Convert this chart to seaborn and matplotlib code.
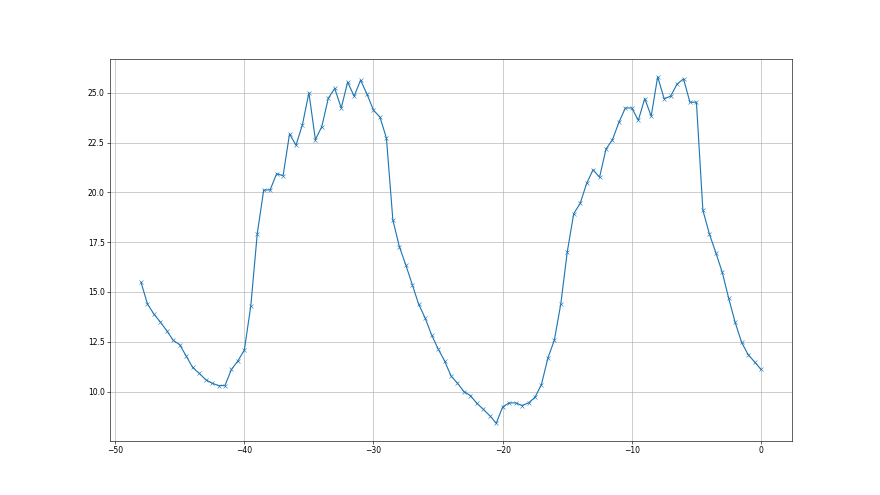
import matplotlib

matplotlib.use("Agg")
import matplotlib.pyplot as plt
import pandas as pd
import seaborn as sns

# 값은 그림에서 읽은 추정치 (x: -48 ~ 0, 0.5 간격)
X_VALUES = [
    -48.0, -47.5, -47.0, -46.5, -46.0, -45.5, -45.0, -44.5, -44.0, -43.5,
    -43.0, -42.5, -42.0, -41.5, -41.0, -40.5, -40.0, -39.5, -39.0, -38.5,
    -38.0, -37.5, -37.0, -36.5, -36.0, -35.5, -35.0, -34.5, -34.0, -33.5,
    -33.0, -32.5, -32.0, -31.5, -31.0, -30.5, -30.0, -29.5, -29.0, -28.5,
    -28.0, -27.5, -27.0, -26.5, -26.0, -25.5, -25.0, -24.5, -24.0, -23.5,
    -23.0, -22.5, -22.0, -21.5, -21.0, -20.5, -20.0, -19.5, -19.0, -18.5,
    -18.0, -17.5, -17.0, -16.5, -16.0, -15.5, -15.0, -14.5, -14.0, -13.5,
    -13.0, -12.5, -12.0, -11.5, -11.0, -10.5, -10.0, -9.5, -9.0, -8.5,
    -8.0, -7.5, -7.0, -6.5, -6.0, -5.5, -5.0, -4.5, -4.0, -3.5,
    -3.0, -2.5, -2.0, -1.5, -1.0, -0.5, 0.0,
]
Y_VALUES = [
    15.49, 14.40, 13.89, 13.49, 13.05, 12.57, 12.35, 11.78, 11.21, 10.92,
    10.60, 10.42, 10.30, 10.30, 11.11, 11.54, 12.08, 14.30, 17.92, 20.12,
    20.13, 20.94, 20.84, 22.94, 22.37, 23.41, 25.00, 22.65, 23.31, 24.73,
    25.22, 24.24, 25.54, 24.83, 25.64, 24.93, 24.13, 23.78, 22.73, 18.61,
    17.28, 16.36, 15.37, 14.38, 13.69, 12.84, 12.15, 11.54, 10.79, 10.42,
    10.00, 9.80, 9.41, 9.11, 8.79, 8.41, 9.23, 9.43, 9.43, 9.30,
    9.43, 9.71, 10.35, 11.68, 12.58, 14.40, 17.01, 18.93, 19.45, 20.45,
    21.14, 20.76, 22.18, 22.65, 23.52, 24.24, 24.24, 23.62, 24.71, 23.83,
    25.81, 24.71, 24.83, 25.44, 25.70, 24.53, 24.53, 19.11, 17.92, 16.98,
    15.99, 14.68, 13.47, 12.47, 11.86, 11.49, 11.11,
]


def main() -> None:
    df = pd.DataFrame({"x": X_VALUES, "y": Y_VALUES})

    fig, ax = plt.subplots(figsize=(16, 9), dpi=55)
    sns.lineplot(
        data=df,
        x="x",
        y="y",
        marker="x",
        color="#1f77b4",
        markeredgecolor="#1f77b4",
        ax=ax,
    )
    ax.set_xlabel("")
    ax.set_ylabel("")
    ax.grid(True)

    fig.savefig("out.png", dpi=55)
    plt.close(fig)


if __name__ == "__main__":
    main()
